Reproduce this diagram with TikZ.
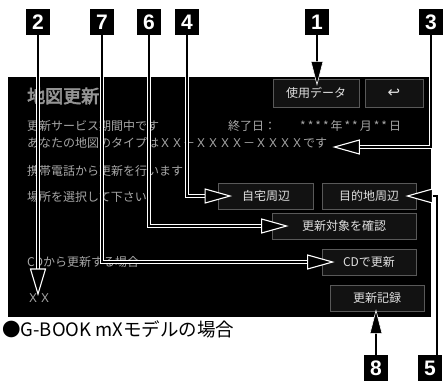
\documentclass[tikz,border=0pt]{standalone}
\usepackage{fontspec}
\setmainfont{Noto Sans CJK JP}
\newfontfamily\titlefont{Noto Sans CJK JP}[FakeBold=3.5]
\newfontfamily\lblfont{Liberation Sans}
\newfontfamily\symfont{DejaVu Sans}
\usetikzlibrary{calc}
\begin{document}
\begin{tikzpicture}[x=1pt,y=-1pt,
  lbl/.style={fill=black, text=white, font=\lblfont\bfseries\fontsize{21}{21}\selectfont, minimum width=24pt, minimum height=26pt, inner sep=0pt},
  btn/.style={draw=black!65!white, fill=black!93!white, line width=0.8pt, text=black!12!white, font=\fontsize{12}{12}\selectfont, inner sep=0pt},
  scr/.style={text=black!35!white, anchor=west, inner sep=0pt, font=\fontsize{12}{12}\selectfont},
  conn/.style={draw=white, line width=1pt, double=black, double distance=1.6pt, line join=miter},
  hhead/.style={fill=black, draw=white, line width=1.1pt, line join=miter},
  shead/.style={fill=black, draw=white, line width=0.6pt}]
\useasboundingbox (0,0) rectangle (443,381);
% screen
\fill[black] (8,77) rectangle (431,317);
% buttons
\node[btn, minimum width=86pt, minimum height=28pt] (b1) at (316,93) {使用データ};
\node[btn, minimum width=58pt, minimum height=28pt] (bret) at (394,93) {\symfont\fontsize{15}{15}\selectfont ↩};
\node[btn, minimum width=95pt, minimum height=26pt] (bhome) at (266,196) {自宅周辺};
\node[btn, minimum width=94pt, minimum height=26pt] (bdest) at (369,196) {目的地周辺};
\node[btn, minimum width=144pt, minimum height=26pt] (bchk) at (344,226) {更新対象を確認};
\node[btn, minimum width=94pt, minimum height=26pt] (bcd) at (369,262) {CDで更新};
\node[btn, minimum width=94pt, minimum height=26pt] (brec) at (377,298) {更新記録};
% screen texts
\node[scr, font=\titlefont\fontsize{18}{18}\selectfont, text=black!42!white] (title) at (27,96) {地図更新};
\node[scr] (t1) at (27,126) {更新サービス期間中です};
\node[scr] (t2) at (228,126) {終了日：};
\node[scr] (t3) at (300,126) {*\,*\,*\,*\,年\,*\,*\,月\,*\,*\,日};
\node[scr] (t4) at (27,143) {あなたの地図のタイプはＸＸ－ＸＸＸＸ－ＸＸＸＸです};
\node[scr] (t5) at (27,171) {携帯電話から更新を行います};
\node[scr] (t6) at (27,197) {場所を選択して下さい};
\node[scr] (t7) at (27,262) {CDから更新する場合};
\node[scr] (t8) at (27,298) {ＸＸ};
% caption
\node[anchor=west, inner sep=0pt, font=\fontsize{18.5}{18.5}\selectfont] (cap) at (2,329) {●G-BOOK mXモデルの場合};
% labels
\node[lbl] (l2) at (38,22) {2};
\node[lbl] (l7) at (102,22) {7};
\node[lbl] (l6) at (149,22) {6};
\node[lbl] (l4) at (187,22) {4};
\node[lbl] (l1) at (317,22) {1};
\node[lbl] (l3) at (431,22) {3};
\node[lbl] (l8) at (376,368) {8};
\node[lbl] (l5) at (430,368) {5};
% connector 2
\draw[conn] (l2.south) -- (l2.south |- 0,269);
\coordinate (h2) at (l2.south |- 0,294);
\filldraw[hhead] (h2) -- ++(-7.5,-25) -- ++(15,0) -- cycle;
% connector 7
\coordinate (h7) at ($(bcd.west)+(11,0)$);
\draw[conn] (l7.south) |- ($(h7)+(-25,0)$);
\filldraw[hhead] (h7) -- ++(-25,-7) -- ++(0,14) -- cycle;
% connector 6
\coordinate (h6) at ($(bchk.west)+(15,0)$);
\draw[conn] (l6.south) |- ($(h6)+(-25,0)$);
\filldraw[hhead] (h6) -- ++(-25,-7) -- ++(0,14) -- cycle;
% connector 4
\coordinate (h4) at ($(bhome.west)+(12,0)$);
\draw[conn] (l4.south) |- ($(h4)+(-25,0)$);
\filldraw[hhead] (h4) -- ++(-25,-7) -- ++(0,14) -- cycle;
% connector 3
\coordinate (h3) at ($(t4.east)+(7,4)$);
\draw[conn] (l3.south) |- ($(h3)+(25,0)$);
\filldraw[hhead] (h3) -- ++(25,-7) -- ++(0,14) -- cycle;
% connector 5
\coordinate (h5) at ($(bdest.east)+(-9,0)$);
\draw[conn] ($(l5.north)+(7,0)$) |- ($(h5)+(25,0)$);
\filldraw[hhead] (h5) -- ++(25,-7) -- ++(0,14) -- cycle;
% connector 1
\coordinate (h1) at ($(b1.north)+(1,6)$);
\draw[conn] (l1.south) -- ($(h1)+(0,-22)$);
\filldraw[shead] (h1) -- ++(-6,-23) -- ++(12,0) -- cycle;
% connector 8
\coordinate (h8) at ($(brec.south)+(-1,-1)$);
\draw[conn] (l8.north) -- ($(h8)+(0,22)$);
\filldraw[shead] (h8) -- ++(-6,23) -- ++(12,0) -- cycle;
\end{tikzpicture}
\end{document}
